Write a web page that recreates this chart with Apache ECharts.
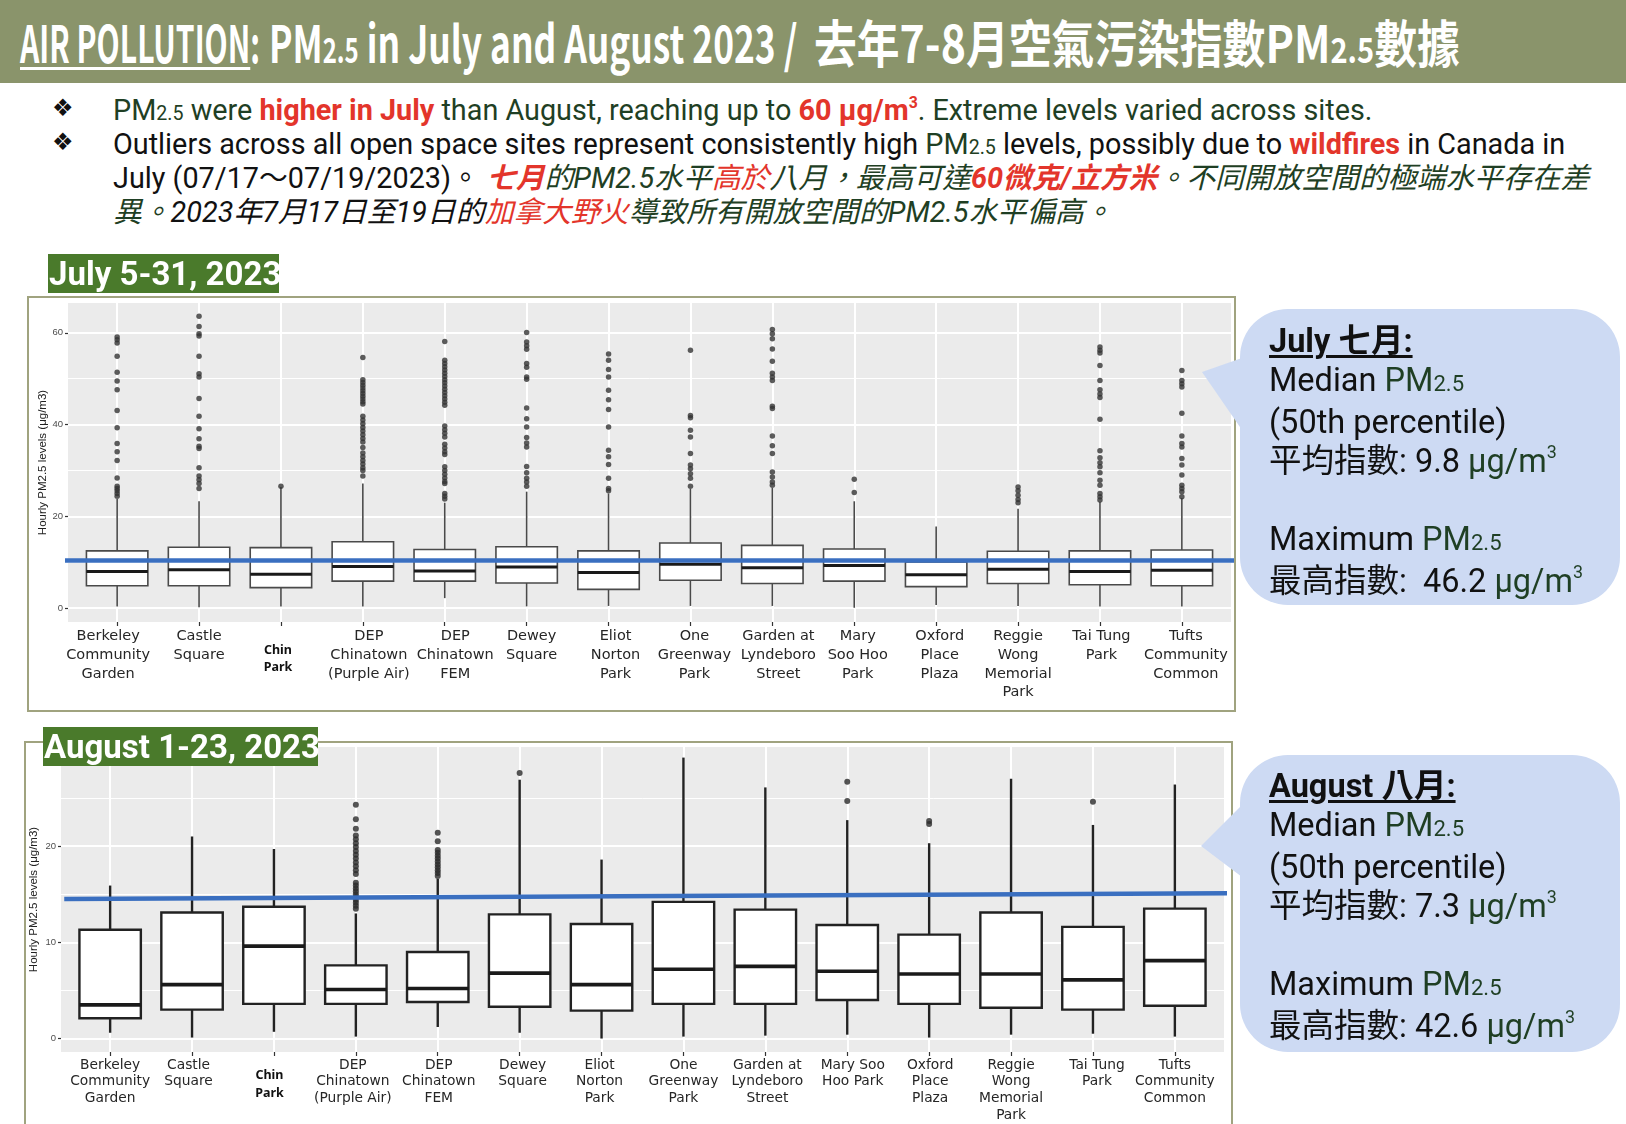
<!DOCTYPE html>
<html>
<head>
<meta charset="utf-8">
<title>PM2.5 July and August 2023</title>
<script src="https://cdn.jsdelivr.net/npm/echarts@6/dist/echarts.min.js"></script>
<style>
body { margin: 0; width: 1626px; height: 1124px; overflow: hidden; background: #fff; position: relative;
       font-family: Roboto, "Noto Sans CJK TC", sans-serif; }
#header { position: absolute; left: 0; top: 0; width: 1626px; height: 83px; background: #8a946b; }
.title { position: absolute; top: 13px; white-space: nowrap; color: #fff; font-weight: bold; font-size: 51px;
         line-height: 56px; font-family: "Liberation Sans Narrow", "Noto Sans CJK TC", sans-serif; transform-origin: 0 0; }
.title .ul { text-decoration: underline; text-decoration-thickness: 3px; text-underline-offset: 4px; }
.sub { font-size: 68%; }
sup { font-size: 55%; position: relative; top: -0.1em; line-height: 0; vertical-align: super; }
.bul { position: absolute; left: 52px; font-family: "DejaVu Sans", sans-serif; font-size: 24px; color: #111; line-height: 34px; }
.line { position: absolute; left: 113px; white-space: nowrap; font-size: 28.8px; line-height: 34px; color: #111; }
.g { color: #1f3f24; }
.r { color: #e3352b; }
.b { font-weight: bold; }
.i { font-style: italic; }
.frame { position: absolute; border: 2px solid #a0a37f; box-sizing: border-box; z-index: 1; }
#chart { position: absolute; left: 0; top: 0; width: 1626px; height: 1124px; z-index: 2; }
.tag { position: absolute; z-index: 3; background: #4a7a2b; color: #fff; font-weight: bold; font-size: 33px;
       line-height: 39px; height: 39px; white-space: nowrap; padding-left: 1px; box-sizing: border-box; }
.bubble { position: absolute; z-index: 3; background: #cddaf3; }
.callout { position: absolute; z-index: 4; left: 1269px; font-size: 32.5px; line-height: 39px; color: #111; white-space: nowrap; }
.callout u { text-underline-offset: 3px; }
</style>
</head>
<body>
<div id="header"></div>
<div class="title" id="t1"><span class="ul">AIR POLLUTION</span>:</div>
<div class="title" id="t2">PM<span class="sub">2.5</span> in July and August 2023 /</div>
<div class="title" id="t3">去年7-8月空氣污染指數PM<span class="sub">2.5</span>數據</div>

<div class="bul" style="top:91px">❖</div>
<div class="bul" style="top:125px">❖</div>
<div class="line g" style="top:93px">PM<span class="sub">2.5</span> were <span class="r b">higher in July</span> than August, reaching up to <span class="r b">60 μg/m<sup>3</sup></span>. Extreme levels varied across sites.</div>
<div class="line" style="top:127px">Outliers across all open space sites represent consistently high <span class="g">PM<span class="sub">2.5</span></span> levels, possibly due to <span class="r b">wildfires</span> in Canada in</div>
<div class="line" style="top:161px">July (07/17～07/19/2023)。<span class="i"> <span class="r b">七月</span><span class="g">的PM2.5水平</span><span class="r">高於</span><span class="g">八月，最高可達</span><span class="r b">60微克/立方米</span><span class="g">。不同開放空間的極端水平存在差</span></span></div>
<div class="line i" style="top:195px"><span class="g">異。</span>2023年7月17日至19日的<span class="r">加拿大野火</span><span class="g">導致所有開放空間的PM2.5水平偏高。</span></div>

<div class="frame" style="left:27px;top:296px;width:1209px;height:416px"></div>
<div class="frame" style="left:24px;top:741px;width:1209px;height:420px"></div>

<div id="chart"></div>

<div class="tag" style="left:48px;top:254px;width:231px">July 5-31, 2023</div>
<div class="tag" style="left:43px;top:727px;width:275px">August 1-23, 2023</div>

<div class="bubble" style="left:1240px;top:309px;width:380px;height:296px;border-radius:48px"></div>
<div class="bubble" style="left:1200px;top:355px;width:42px;height:80px;clip-path:polygon(2px 17px,42px 3px,42px 75px)"></div>
<div class="callout" style="top:322px">
<u><b>July 七月:</b></u><br>
Median <span class="g">PM<span class="sub">2.5</span></span><br>
(50th percentile)<br>
平均指數: 9.8 <span class="g">μg/m<sup>3</sup></span><br>
<br>
Maximum <span class="g">PM<span class="sub">2.5</span></span><br>
最高指數:&nbsp; 46.2 <span class="g">μg/m<sup>3</sup></span>
</div>

<div class="bubble" style="left:1240px;top:755px;width:380px;height:297px;border-radius:48px"></div>
<div class="bubble" style="left:1199px;top:802px;width:43px;height:78px;clip-path:polygon(2px 44px,43px 3px,43px 75px)"></div>
<div class="callout" style="top:767px">
<u><b>August 八月:</b></u><br>
Median <span class="g">PM<span class="sub">2.5</span></span><br>
(50th percentile)<br>
平均指數: 7.3 <span class="g">μg/m<sup>3</sup></span><br>
<br>
Maximum <span class="g">PM<span class="sub">2.5</span></span><br>
最高指數: 42.6 <span class="g">μg/m<sup>3</sup></span>
</div>

<script>
// fit the condensed title pieces to their widths
function fitWidth(id, left, width) {
    var el = document.getElementById(id);
    el.style.left = left + 'px';
    el.style.transform = 'scaleX(' + (width / el.offsetWidth) + ')';
}
fitWidth('t1', 20, 240);
fitWidth('t2', 269, 528);
fitWidth('t3', 814, 646);

var sitesJuly = ['Berkeley\nCommunity\nGarden', 'Castle\nSquare', 'Chin\nPark', 'DEP\nChinatown\n(Purple Air)',
    'DEP\nChinatown\nFEM', 'Dewey\nSquare', 'Eliot\nNorton\nPark', 'One\nGreenway\nPark', 'Garden at\nLyndeboro\nStreet',
    'Mary\nSoo Hoo\nPark', 'Oxford\nPlace\nPlaza', 'Reggie\nWong\nMemorial\nPark', 'Tai Tung\nPark', 'Tufts\nCommunity\nCommon'];
var sitesAug = ['Berkeley\nCommunity\nGarden', 'Castle\nSquare', 'Chin\nPark', 'DEP\nChinatown\n(Purple Air)',
    'DEP\nChinatown\nFEM', 'Dewey\nSquare', 'Eliot\nNorton\nPark', 'One\nGreenway\nPark', 'Garden at\nLyndeboro\nStreet',
    'Mary Soo\nHoo Park', 'Oxford\nPlace\nPlaza', 'Reggie\nWong\nMemorial\nPark', 'Tai Tung\nPark', 'Tufts\nCommunity\nCommon'];
var siteIndex = [0, 1, 2, 3, 4, 5, 6, 7, 8, 9, 10, 11, 12, 13];

// [lower whisker, Q1, median, Q3, upper whisker]
var boxesJuly = [
    [0.4, 4.9, 8.0, 12.5, 23.8], [0.2, 4.9, 8.4, 13.3, 23.3], [0.4, 4.5, 7.4, 13.2, 26.4], [0.4, 5.9, 9.1, 14.5, 27.2],
    [2.2, 5.9, 8.1, 12.8, 23.0], [0.4, 5.5, 9.0, 13.4, 25.4], [0.5, 4.1, 7.8, 12.5, 25.0], [0.5, 6.1, 9.6, 14.2, 26.0],
    [0.5, 5.4, 8.8, 13.7, 26.2], [0.1, 5.9, 9.3, 12.9, 23.3], [0.7, 4.7, 7.3, 10.1, 17.8], [0.5, 5.4, 8.5, 12.4, 21.7],
    [0.4, 5.1, 8.0, 12.5, 23.2], [0.4, 4.9, 8.3, 12.7, 24.0]
];
var outliersJuly = [
    [59.1, 58.5, 57.8, 54.9, 51.4, 49.5, 47.6, 43.1, 39.3, 35.9, 34.1, 32.2, 28.4, 26.6, 26.1, 25.6, 25.0, 24.4],
    [63.6, 61.4, 59.8, 59.3, 54.9, 51.1, 50.4, 45.7, 41.8, 39.1, 36.9, 35.3, 34.8, 30.6, 28.8, 28.0, 27.2, 26.1],
    [26.6],
    [54.6, 49.8, 49.2, 48.6, 48.0, 47.4, 46.8, 46.2, 45.6, 45.0, 44.5, 41.8, 41.0, 40.2, 39.4, 38.6, 37.8, 37.0, 36.2,
        35.0, 33.8, 33.0, 32.2, 31.4, 30.6, 30.0, 28.8],
    [58.1, 54.0, 53.3, 52.6, 51.9, 51.2, 50.5, 49.8, 49.1, 48.4, 47.7, 47.0, 46.3, 45.6, 44.9, 44.2, 39.7, 38.9, 38.1,
        37.3, 35.7, 34.9, 34.1, 33.5, 30.8, 30.0, 29.2, 28.4, 27.6, 27.2, 25.0, 24.4, 23.8],
    [60.1, 58.0, 57.2, 56.4, 53.3, 52.5, 50.4, 49.9, 43.6, 41.3, 39.5, 37.2, 36.0, 35.1, 30.9, 29.5, 28.3, 27.5, 26.6],
    [55.4, 54.0, 52.0, 50.4, 47.5, 45.4, 43.3, 39.5, 34.4, 33.0, 31.3, 28.3, 26.1, 25.6],
    [56.2, 42.0, 41.5, 38.8, 37.3, 33.7, 31.2, 30.4, 29.3, 28.3, 26.6],
    [60.7, 59.8, 58.7, 56.5, 53.8, 51.2, 50.4, 49.6, 44.0, 43.5, 37.5, 35.4, 33.7, 29.7, 28.6, 27.5, 26.8],
    [28.1, 25.2],
    [],
    [26.4, 25.6, 24.6, 23.7, 23.0],
    [56.9, 56.2, 55.6, 52.9, 49.6, 47.6, 46.7, 45.9, 41.2, 34.3, 32.8, 31.7, 30.8, 29.5, 27.9, 26.8, 25.0, 24.3, 23.6],
    [51.8, 49.6, 48.9, 48.2, 42.5, 37.5, 35.9, 35.1, 32.6, 31.2, 29.0, 26.8, 26.1, 25.4, 24.3]
];
var boxesAug = [
    [0.6, 2.1, 3.5, 11.3, 15.9], [0.1, 3.0, 5.6, 13.1, 21.0], [0.7, 3.6, 9.6, 13.7, 19.7], [0.2, 3.6, 5.1, 7.6, 13.0],
    [1.2, 3.8, 5.2, 9.0, 16.6], [0.6, 3.3, 6.8, 12.9, 26.9], [0.0, 2.9, 5.6, 11.9, 18.6], [0.2, 3.6, 7.2, 14.2, 29.2],
    [0.3, 3.6, 7.5, 13.4, 26.1], [0.4, 4.0, 7.0, 11.8, 22.7], [0.1, 3.6, 6.7, 10.8, 20.3], [0.4, 3.2, 6.7, 13.1, 27.0],
    [0.5, 3.0, 6.1, 11.6, 22.2], [0.2, 3.4, 8.1, 13.5, 26.4]
];
var outliersAug = [
    [], [], [],
    [24.3, 22.8, 21.8, 21.1, 20.7, 20.3, 19.9, 19.5, 19.1, 18.7, 18.3, 17.9, 17.5, 17.1, 16.2, 15.9, 15.6, 15.3, 15.0,
        14.7, 14.4, 14.1, 13.8, 13.5],
    [21.4, 20.5, 19.6, 19.3, 19.0, 18.7, 18.4, 18.1, 17.8, 17.5, 17.2, 16.9],
    [27.6], [], [], [],
    [26.7, 24.7],
    [22.6, 22.3],
    [], [24.6], []
];
// blue reference line drawn on the slide (left level, right level)
var refLevelJuly = [10.4, 10.4];
var refLevelAug = [14.5, 15.1];

var ticksJuly = [0, 20, 40, 60];
var minorJuly = [10, 30, 50];
var ticksAug = [0, 10, 20];
var minorAug = [5, 15, 25];

// the site names on the slide sit a little off their boxes (pixels)
var labelNudgeJuly = [-9, 0, -3, 6, 10.5, 5, 7, 4, 6, 3.5, 3.5, 0, 1.5, 4];
var labelNudgeAug = [0, -3.5, -4.5, -3, 1, 3, -2, 0, 2, 5.5, 1, 0, 4, 0];
var UNIT_PX = 81.9;

function boxRows(boxes) {
    return boxes.map(function (b, i) { return [i].concat(b); });
}
function pointRows(outliers) {
    var rows = [];
    outliers.forEach(function (vals, i) {
        vals.forEach(function (v) { rows.push([i, v]); });
    });
    return rows;
}

function boxRenderer(edge, lineW, medW) {
    return function (params, api) {
        var x = api.value(0);
        var lo = api.coord([x, api.value(1)]);
        var q1 = api.coord([x, api.value(2)]);
        var md = api.coord([x, api.value(3)]);
        var q3 = api.coord([x, api.value(4)]);
        var hi = api.coord([x, api.value(5)]);
        var hw = api.size([0.75, 0])[0] / 2;
        var ls = { stroke: edge, lineWidth: lineW };
        return {
            type: 'group',
            children: [
                { type: 'line', shape: { x1: lo[0], y1: lo[1], x2: q1[0], y2: q1[1] }, style: ls },
                { type: 'line', shape: { x1: q3[0], y1: q3[1], x2: hi[0], y2: hi[1] }, style: ls },
                { type: 'rect', shape: { x: q3[0] - hw, y: q3[1], width: hw * 2, height: q1[1] - q3[1] },
                  style: { fill: '#fff', stroke: edge, lineWidth: lineW } },
                { type: 'line', shape: { x1: md[0] - hw, y1: md[1], x2: md[0] + hw, y2: md[1] },
                  style: { stroke: '#1a1a1a', lineWidth: medW } }
            ]
        };
    };
}

function siteLabel(names) {
    return function (v) {
        var name = names[Math.round(v)];
        if (name === 'Chin\nPark') {
            return '{gap| }\n{cp|Chin}\n{cp|Park}';
        }
        return name;
    };
}

function xAxisFor(grid, names, nudge, fontSize, lineHeight, gap, cpLine) {
    return {
        gridIndex: grid,
        type: 'value',
        min: -0.6,
        max: 13.6,
        axisLine: { show: false, onZero: false },
        axisTick: { customValues: siteIndex, length: 4, lineStyle: { color: '#333', width: 1.2 } },
        splitLine: { show: true, lineStyle: { color: '#ffffff', width: 2 } },
        axisLabel: {
            customValues: siteIndex.map(function (i) { return i + nudge[i] / UNIT_PX; }),
            margin: 5,
            formatter: siteLabel(names),
            fontFamily: 'DejaVu Sans',
            fontSize: fontSize,
            lineHeight: lineHeight,
            color: '#262626',
            rich: {
                gap: { lineHeight: gap, fontSize: 4 },
                cp: { fontFamily: 'Noto Sans', fontWeight: 'bold', fontSize: 12.5, lineHeight: cpLine, color: '#111' }
            }
        }
    };
}

function yAxesFor(grid, min, max, ticks, minor, nameGap) {
    return [
        {
            gridIndex: grid,
            type: 'value',
            min: min,
            max: max,
            name: 'Hourly PM2.5 levels (μg/m3)',
            nameLocation: 'middle',
            nameGap: nameGap,
            nameMoveOverlap: false,
            nameTextStyle: { fontFamily: 'Liberation Sans', fontSize: 11.5, color: '#222' },
            axisLine: { show: false, onZero: false },
            axisTick: { customValues: ticks, length: 3, lineStyle: { color: '#333', width: 1.2 } },
            axisLabel: { customValues: ticks, margin: 5, fontFamily: 'Liberation Sans', fontSize: 9.5, color: '#4d4d4d' },
            splitLine: { show: true, lineStyle: { color: '#ffffff', width: 2 } }
        },
        {
            gridIndex: grid,
            type: 'value',
            min: min,
            max: max,
            axisLine: { show: false, onZero: false },
            axisTick: { show: false, customValues: minor },
            axisLabel: { show: false, customValues: minor },
            splitLine: { show: true, lineStyle: { color: '#ffffff', width: 1 } }
        }
    ];
}

var dom = document.getElementById('chart');
var myChart = echarts.init(dom, null, { renderer: 'canvas' });

var option = {
    animation: false,
    grid: [
        { left: 68, top: 303, width: 1163, height: 319, show: true, backgroundColor: '#ebebeb', borderWidth: 0 },
        { left: 61, top: 747, width: 1163, height: 305, show: true, backgroundColor: '#ebebeb', borderWidth: 0 }
    ],
    xAxis: [
        xAxisFor(0, sitesJuly, labelNudgeJuly, 14.5, 18.7, 15, 17),
        xAxisFor(1, sitesAug, labelNudgeAug, 13.8, 16.6, 9.5, 18)
    ],
    yAxis: yAxesFor(0, -3, 66.5, ticksJuly, minorJuly, 19.5).concat(yAxesFor(1, -1.4, 30.3, ticksAug, minorAug, 21)),
    series: [
        {
            type: 'custom',
            xAxisIndex: 0,
            yAxisIndex: 0,
            renderItem: boxRenderer('#4a4a4a', 1.6, 3),
            encode: { x: 0, y: [1, 2, 3, 4, 5] },
            data: boxRows(boxesJuly),
            z: 2
        },
        {
            type: 'scatter',
            xAxisIndex: 0,
            yAxisIndex: 0,
            symbolSize: 5.5,
            itemStyle: { color: '#333333' },
            data: pointRows(outliersJuly),
            z: 3
        },
        {
            type: 'line',
            xAxisIndex: 0,
            yAxisIndex: 0,
            clip: false,
            symbol: 'none',
            lineStyle: { color: '#3a6fc0', width: 4.5 },
            data: [[-0.65, refLevelJuly[0]], [13.7, refLevelJuly[1]]],
            z: 4
        },
        {
            type: 'custom',
            xAxisIndex: 1,
            yAxisIndex: 2,
            renderItem: boxRenderer('#222222', 2.4, 3.6),
            encode: { x: 0, y: [1, 2, 3, 4, 5] },
            data: boxRows(boxesAug),
            z: 2
        },
        {
            type: 'scatter',
            xAxisIndex: 1,
            yAxisIndex: 2,
            symbolSize: 6,
            itemStyle: { color: '#2a2a2a' },
            data: pointRows(outliersAug),
            z: 3
        },
        {
            type: 'line',
            xAxisIndex: 1,
            yAxisIndex: 2,
            clip: false,
            symbol: 'none',
            lineStyle: { color: '#3a6fc0', width: 4.5 },
            data: [[-0.56, refLevelAug[0]], [13.78, refLevelAug[1]]],
            z: 4
        }
    ]
};

myChart.setOption(option);
window.addEventListener('resize', myChart.resize);
</script>
</body>
</html>
